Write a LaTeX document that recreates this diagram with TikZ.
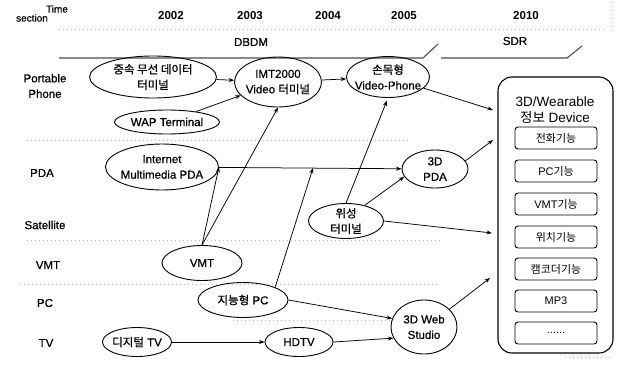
\documentclass[tikz,border=0pt]{standalone}
\usepackage{fontspec}
\setmainfont{Liberation Sans}
\newfontfamily\hvb{Liberation Sans}[FakeBold=0.7]
\newfontfamily\kr{Noto Sans CJK KR}
\newfontfamily\krb{Noto Sans CJK KR}[FakeBold=0.7]
\usetikzlibrary{arrows.meta,shapes.geometric}
\newcommand{\K}[1]{{\kr #1}}
\newcommand{\KB}[1]{{\krb #1}}
\begin{document}
\begin{tikzpicture}[x=1pt,y=-1pt,
  el/.style={draw,ellipse,line width=0.9pt,inner sep=-5pt,align=center,font=\hvb\fontsize{11.5}{15.5}\selectfont},
  arr/.style={-{Stealth[length=5.5pt,width=4pt]},line width=0.75pt},
  sepline/.style={gray!55,line width=0.7pt,dash pattern=on 1pt off 3pt},
  rowlab/.style={font=\hvb\fontsize{11.5}{15.5}\selectfont,align=center},
  yr/.style={font=\bfseries\fontsize{11.5}{13}\selectfont},
  fbox/.style={draw,rounded corners=3pt,minimum width=82pt,minimum height=22pt,line width=0.9pt,inner sep=0pt,font=\fontsize{11}{13}\selectfont},
  bar/.style={gray!60!black,line width=1.1pt}
]
\useasboundingbox (0,0) rectangle (617,369);

% header
\node[font=\hvb\fontsize{10}{12}\selectfont] (time) at (57,9) {Time};
\node[font=\hvb\fontsize{10}{12}\selectfont] (section) at (32,18) {section};
\node[yr] (y2002) at (171,16) {2002};
\node[yr] (y2003) at (250,16) {2003};
\node[yr] (y2004) at (328,16) {2004};
\node[yr] (y2005) at (404,16) {2005};
\node[yr] (y2010) at (526,16) {2010};
\draw[sepline] (59,29) -- (606,29);
\draw[sepline] (611,2) -- (611,32);
\node[font=\hvb\fontsize{11.5}{13}\selectfont] (dbdm) at (251,42) {DBDM};
\node[font=\hvb\fontsize{11.5}{13}\selectfont] (sdr) at (515,41) {SDR};
\draw[bar] (59,58) -- (423,58) -- (438,44);
\draw[bar] (441,58) -- (567,58) -- (582,46);

% separators
\draw[sepline] (27,140) -- (410,140);
\draw[sepline] (27,240) -- (440,240);
\draw[sepline] (20,284) -- (440,284);
\draw[sepline] (233,320) -- (390,320);
\draw[sepline] (565,357) -- (612,357);

% row labels
\node[rowlab] (rpp) at (45,86) {Portable\\Phone};
\node[rowlab] (rpda) at (42,173) {PDA};
\node[rowlab] (rsat) at (45,225) {Satellite};
\node[rowlab] (rvmt) at (48,265) {VMT};
\node[rowlab] (rpc) at (45,303) {PC};
\node[rowlab] (rtv) at (46,343) {TV};

% ellipses
\node[el,minimum width=127pt,minimum height=42pt] (hs) at (153,77) {\KB{중속 무선 데이터}\\\KB{터미널}};
\node[el,minimum width=87pt,minimum height=50pt] (imt) at (278,82) {IMT2000\\Video \KB{터미널}};
\node[el,minimum width=83pt,minimum height=41pt] (wrist) at (388,77) {\KB{손목형}\\Video-Phone};
\node[el,minimum width=105pt,minimum height=24pt] (wap) at (167,122) {WAP Terminal};
\node[el,minimum width=113pt,minimum height=46pt] (ipda) at (162,167) {Internet\\Multimedia PDA};
\node[el,minimum width=66pt,minimum height=38pt] (pda3) at (435,169) {3D\\PDA};
\node[el,minimum width=75pt,minimum height=35pt] (sat) at (346,221) {\KB{위성}\\\KB{터미널}};
\node[el,minimum width=80pt,minimum height=35pt] (vmt) at (202,263) {VMT};
\node[el,minimum width=90pt,minimum height=35pt] (ipc) at (243,300) {\KB{지능형} PC};
\node[el,minimum width=69pt,minimum height=29pt] (dtv) at (137,342) {\KB{디지털} TV};
\node[el,minimum width=68pt,minimum height=29pt] (hdtv) at (299,342) {HDTV};
\node[el,minimum width=66pt,minimum height=54pt] (web) at (424,327) {3D Web\\Studio};

% device box
\node[draw,rounded corners=14pt,line width=1.1pt,minimum width=115pt,minimum height=276pt,inner sep=0pt] (dev) at (555.5,215) {};
\node[align=center,font=\fontsize{13.5}{16.5}\selectfont] (devtitle) at (555,110) {3D/Wearable\\\K{정보} Device};
\node[fbox] (f1) at (556,138) {\K{전화기능}};
\node[fbox] (f2) at (556,171) {PC\K{기능}};
\node[fbox] (f3) at (556,204) {VMT\K{기능}};
\node[fbox] (f4) at (556,237) {\K{위치기능}};
\node[fbox] (f5) at (556,269) {\K{캠코더기능}};
\node[fbox] (f6) at (556,301) {MP3};
\node[fbox] (f7) at (556,333) {......};

% connector end points
\coordinate (in1) at (493,110);
\coordinate (in2) at (493,140);
\coordinate (in3) at (492,233);
\coordinate (in4) at (490,278);
\coordinate (j1) at (313,168);

% connectors
\draw[arr] (hs) -- (imt);
\draw[arr] (wap) -- (imt);
\draw[arr] (imt) -- (wrist);
\draw[arr] (wrist) -- (in1);
\draw[arr] (pda3.15) -- (in2);
\draw[arr] (ipda) -- (pda3);
\draw[arr] (vmt.north) -- (ipda.east);
\draw[arr] (vmt.north) -- (imt.south);
\draw[arr] (ipc.north east) -- (j1);
\draw[arr,shorten >=3pt] (sat.north) -- (wrist.south);
\draw[arr] (sat.40) -- (pda3.194);
\draw[arr] (sat.east) -- (in3);
\draw[arr] (ipc.east) -- (web.165);
\draw[arr] (hdtv.east) -- (web.200);
\draw[arr] (dtv) -- (hdtv);
\draw[arr] (web.35) -- (in4);
\end{tikzpicture}
\end{document}
